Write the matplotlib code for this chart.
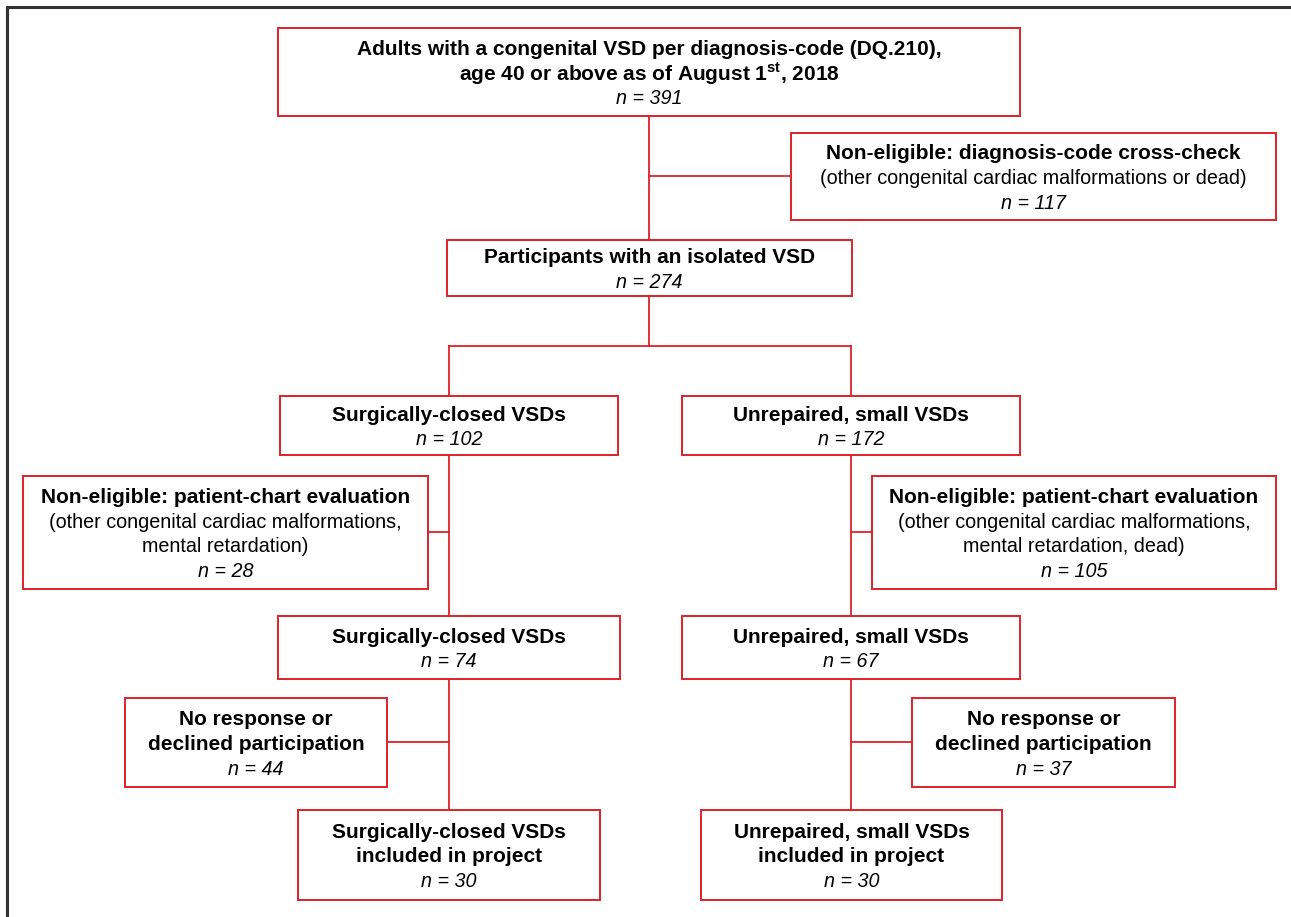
import matplotlib
matplotlib.use("Agg")
import matplotlib.pyplot as plt
from matplotlib.patches import Rectangle

plt.rcParams['font.family'] = ['Liberation Sans', 'DejaVu Sans']
plt.rcParams['mathtext.fontset'] = 'custom'
plt.rcParams['mathtext.bf'] = 'Liberation Sans:bold'
plt.rcParams['mathtext.rm'] = 'Liberation Sans'

# flowchart content: header lines (bold), notes (regular), counts (italic)
headers = [
    ["Adults with a congenital VSD per diagnosis-code (DQ.210),",
     r"age 40 or above as of August 1${}^{\mathbf{st}}$, 2018"],
    ["Non-eligible: diagnosis-code cross-check"],
    ["Participants with an isolated VSD"],
    ["Surgically-closed VSDs"],
    ["Unrepaired, small VSDs"],
    ["Non-eligible: patient-chart evaluation"],
    ["Non-eligible: patient-chart evaluation"],
    ["Surgically-closed VSDs"],
    ["Unrepaired, small VSDs"],
    ["No response or", "declined participation"],
    ["No response or", "declined participation"],
    ["Surgically-closed VSDs", "included in project"],
    ["Unrepaired, small VSDs", "included in project"],
]
notes = [
    [],
    ["(other congenital cardiac malformations or dead)"],
    [],
    [],
    [],
    ["(other congenital cardiac malformations,", "mental retardation)"],
    ["(other congenital cardiac malformations,", "mental retardation, dead)"],
    [],
    [],
    [],
    [],
    [],
    [],
]
counts = [391, 117, 274, 102, 172, 28, 105, 74, 67, 44, 37, 30, 30]

# box geometry in pixels (x0, y0, x1, y1), y measured from the top
boxes = [
    (278, 28, 1020, 116),
    (791, 133, 1276, 220),
    (447, 240, 852, 296),
    (280, 396, 618, 455),
    (682, 396, 1020, 455),
    (23, 476, 428, 589),
    (872, 476, 1276, 589),
    (278, 616, 620, 679),
    (682, 616, 1020, 679),
    (125, 698, 387, 787),
    (912, 698, 1175, 787),
    (298, 810, 600, 900),
    (701, 810, 1002, 900),
]

# connector segments ((x0, y0), (x1, y1))
links = [
    ((649, 116), (649, 240)),
    ((649, 176), (791, 176)),
    ((649, 296), (649, 346)),
    ((449, 346), (851, 346)),
    ((449, 346), (449, 396)),
    ((851, 346), (851, 396)),
    ((449, 455), (449, 616)),
    ((428, 532), (449, 532)),
    ((851, 455), (851, 616)),
    ((851, 532), (872, 532)),
    ((449, 679), (449, 810)),
    ((387, 742), (449, 742)),
    ((851, 679), (851, 810)),
    ((851, 742), (912, 742)),
]

RED = '#DE2129'
W, H = 1291, 917
FS_BOLD = 15
FS = 14.2
LINE = 24.8

fig = plt.figure(figsize=(W / 100, H / 100), dpi=100)
ax = fig.add_axes([0, 0, 1, 1])
ax.set_xlim(0, W)
ax.set_ylim(H, 0)
ax.axis('off')

# outer frame (top and left only)
ax.plot([7, 7, W], [H, 7, 7], color='#333333', lw=2.2, solid_joinstyle='miter')

for (p0, p1) in links:
    ax.plot([p0[0], p1[0]], [p0[1], p1[1]], color=RED, lw=1.3, zorder=1)

for box, head, note, n in zip(boxes, headers, notes, counts):
    x0, y0, x1, y1 = box
    ax.add_patch(Rectangle((x0, y0), x1 - x0, y1 - y0, facecolor='white',
                           edgecolor=RED, lw=1.4, zorder=2))
    lines = [(t, 'bold', 'normal', FS_BOLD) for t in head]
    lines += [(t, 'normal', 'normal', FS) for t in note]
    lines.append((f"n = {n}", 'normal', 'italic', FS))
    cx = (x0 + x1) / 2
    cy = (y0 + y1) / 2 + 2
    start = cy - LINE * (len(lines) - 1) / 2
    for i, (t, wt, st, fs) in enumerate(lines):
        ax.text(cx, start + i * LINE, t, ha='center', va='center',
                fontsize=fs, fontweight=wt, fontstyle=st, zorder=3)

fig.savefig('out.png', dpi=100)
